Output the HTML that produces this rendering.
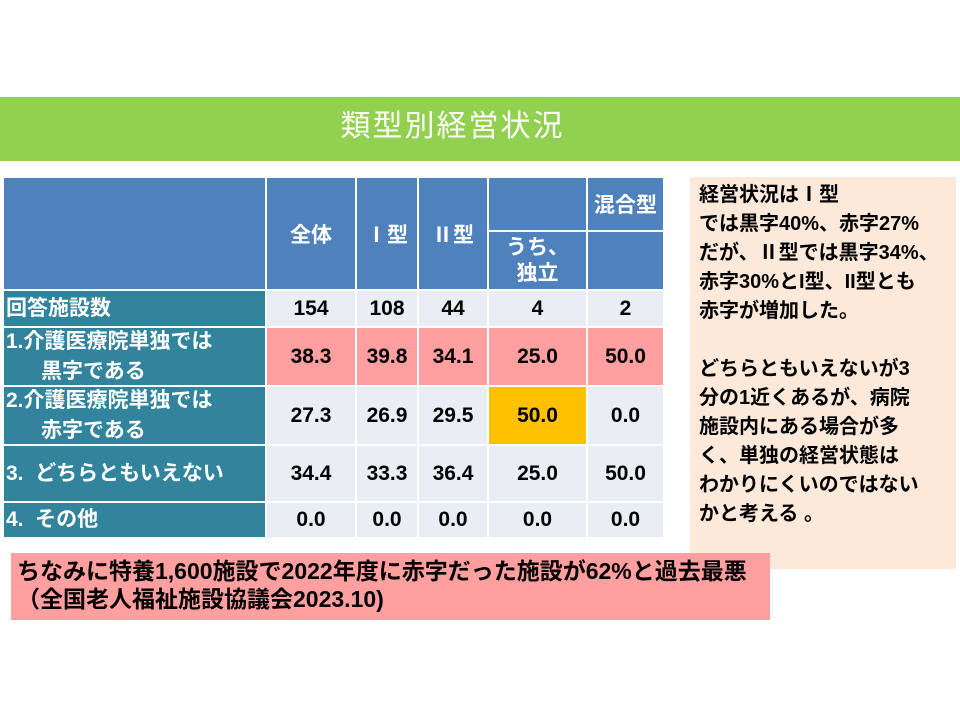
<!DOCTYPE html>
<html><head><meta charset="utf-8"><style>
body{margin:0;width:960px;height:720px;background:#fff;position:relative;overflow:hidden;font-family:"Liberation Sans","Noto Sans CJK JP",sans-serif;}
.a{position:absolute;box-sizing:border-box;}
.c{display:flex;align-items:center;justify-content:center;font-weight:bold;font-size:21px;color:#000;}
.h{background:#4f81bd;color:#fff;}
.t{background:#31849b;color:#fff;justify-content:flex-start;padding-left:2px;font-size:21px;line-height:30px;}
.d{background:#e9edf4;}
.p{background:#ff9f9f;}
.o{background:#ffc000;}
</style></head><body>
<div class="a" style="left:0;top:97px;width:960px;height:64px;background:#92d050;"></div>
<div class="a" style="left:300px;top:105px;width:305px;height:44px;color:#fff;font-size:30px;text-align:center;line-height:44px;letter-spacing:2px;">類型別経営状況</div>

<div class="a c h" style="left:4px;top:178px;width:261px;height:111px;"></div>
<div class="a c h" style="left:267px;top:178px;width:88px;height:111px;">全体</div>
<div class="a c h" style="left:357px;top:178px;width:60px;height:111px;">Ⅰ型</div>
<div class="a c h" style="left:419px;top:178px;width:68px;height:111px;">Ⅱ型</div>
<div class="a c h" style="left:489px;top:178px;width:97px;height:52px;"></div>
<div class="a c h" style="left:588px;top:178px;width:75px;height:52px;">混合型</div>
<div class="a c h" style="left:489px;top:232px;width:97px;height:57px;line-height:26px;text-align:center;">うち、<br>独立</div>
<div class="a c h" style="left:588px;top:232px;width:75px;height:57px;"></div>

<div class="a c t" style="left:4px;top:291px;width:261px;height:35px;">回答施設数</div>
<div class="a c d" style="left:267px;top:291px;width:88px;height:35px;">154</div>
<div class="a c d" style="left:357px;top:291px;width:60px;height:35px;">108</div>
<div class="a c d" style="left:419px;top:291px;width:68px;height:35px;">44</div>
<div class="a c d" style="left:489px;top:291px;width:97px;height:35px;">4</div>
<div class="a c d" style="left:588px;top:291px;width:75px;height:35px;">2</div>

<div class="a c t" style="left:4px;top:328px;width:261px;height:57px;">1.介護医療院単独では<br>&nbsp;&nbsp;&nbsp;&nbsp;&nbsp;&nbsp;黒字である</div>
<div class="a c p" style="left:267px;top:328px;width:88px;height:57px;">38.3</div>
<div class="a c p" style="left:357px;top:328px;width:60px;height:57px;">39.8</div>
<div class="a c p" style="left:419px;top:328px;width:68px;height:57px;">34.1</div>
<div class="a c p" style="left:489px;top:328px;width:97px;height:57px;">25.0</div>
<div class="a c p" style="left:588px;top:328px;width:75px;height:57px;">50.0</div>

<div class="a c t" style="left:4px;top:387px;width:261px;height:57px;">2.介護医療院単独では<br>&nbsp;&nbsp;&nbsp;&nbsp;&nbsp;&nbsp;赤字である</div>
<div class="a c d" style="left:267px;top:387px;width:88px;height:57px;">27.3</div>
<div class="a c d" style="left:357px;top:387px;width:60px;height:57px;">26.9</div>
<div class="a c d" style="left:419px;top:387px;width:68px;height:57px;">29.5</div>
<div class="a c o" style="left:489px;top:387px;width:97px;height:57px;">50.0</div>
<div class="a c d" style="left:588px;top:387px;width:75px;height:57px;">0.0</div>

<div class="a c t" style="left:4px;top:446px;width:261px;height:55px;">3.&nbsp;&nbsp;どちらともいえない</div>
<div class="a c d" style="left:267px;top:446px;width:88px;height:55px;">34.4</div>
<div class="a c d" style="left:357px;top:446px;width:60px;height:55px;">33.3</div>
<div class="a c d" style="left:419px;top:446px;width:68px;height:55px;">36.4</div>
<div class="a c d" style="left:489px;top:446px;width:97px;height:55px;">25.0</div>
<div class="a c d" style="left:588px;top:446px;width:75px;height:55px;">50.0</div>

<div class="a c t" style="left:4px;top:503px;width:261px;height:34px;">4.&nbsp;&nbsp;その他</div>
<div class="a c d" style="left:267px;top:503px;width:88px;height:34px;">0.0</div>
<div class="a c d" style="left:357px;top:503px;width:60px;height:34px;">0.0</div>
<div class="a c d" style="left:419px;top:503px;width:68px;height:34px;">0.0</div>
<div class="a c d" style="left:489px;top:503px;width:97px;height:34px;">0.0</div>
<div class="a c d" style="left:588px;top:503px;width:75px;height:34px;">0.0</div>

<div class="a" style="left:690px;top:177px;width:266px;height:392px;background:#fde9d9;padding:4px 0 0 9px;font-size:20px;font-weight:bold;line-height:29px;white-space:nowrap;">経営状況はⅠ型<br>では黒字40%、赤字27%<br>だが、Ⅱ型では黒字34%、<br>赤字30%とI型、II型とも<br>赤字が増加した。<br><br>どちらともいえないが3<br>分の1近くあるが、病院<br>施設内にある場合が多<br>く、単独の経営状態は<br>わかりにくいのではない<br>かと考える 。</div>

<div class="a" style="left:11px;top:553px;width:759px;height:67px;background:#ff9f9f;padding:4px 0 0 6px;font-size:23px;font-weight:bold;line-height:28px;white-space:nowrap;">ちなみに特養1,600施設で2022年度に赤字だった施設が62%と過去最悪<br>（全国老人福祉施設協議会2023.10)</div>
</body></html>
